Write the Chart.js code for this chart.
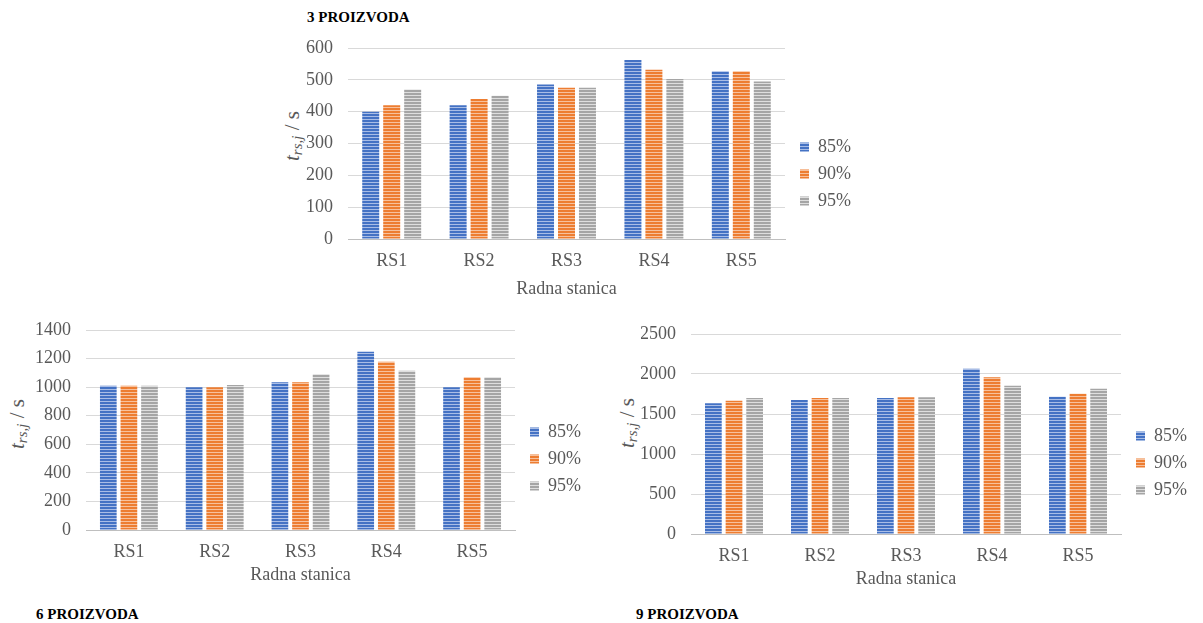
<!DOCTYPE html>
<html>
<head>
<meta charset="utf-8">
<script src="https://cdn.jsdelivr.net/npm/chart.js@4.4.1/dist/chart.umd.min.js"></script>
<style>
  body { margin: 0; background: #fff; width: 1203px; height: 623px; position: relative; overflow: hidden; font-family: 'Liberation Serif', serif; }
  .box { position: absolute; }
  .box canvas { display: block; }
  .caption { position: absolute; font-weight: bold; font-size: 15px; color: #000; line-height: 1; transform: translateY(-50%); }
  .ytitle { position: absolute; font-size: 21px; color: #595959; white-space: nowrap; transform: translate(-50%, -50%) rotate(-90deg); line-height: 1; }
  .ytitle sub { font-size: 15px; font-style: italic; vertical-align: -3px; }
</style>
</head>
<body>

<div class="caption" style="left:307px; top:17px;">3 PROIZVODA</div>
<div class="caption" style="left:36px; top:614px;">6 PROIZVODA</div>
<div class="caption" style="left:636px; top:614px;">9 PROIZVODA</div>

<div class="ytitle" style="left:293px; top:136px;"><i>t</i><sub>rs,j</sub> / s</div>
<div class="ytitle" style="left:18px; top:424px;"><i>t</i><sub>rs,j</sub> / s</div>
<div class="ytitle" style="left:628px; top:423px;"><i>t</i><sub>rs,j</sub> / s</div>

<div class="box" style="left:260px; top:30px; width:620px; height:280px;"><canvas id="chart3"></canvas></div>
<div class="box" style="left:0px; top:315px; width:600px; height:290px;"><canvas id="chart6"></canvas></div>
<div class="box" style="left:600px; top:319px; width:603px; height:290px;"><canvas id="chart9"></canvas></div>

<script>
// Categories and series
const stations = ['RS1', 'RS2', 'RS3', 'RS4', 'RS5'];
const seriesNames = ['85%', '90%', '95%'];

// 3 proizvoda
const p3_85 = [400, 420, 485, 562, 527];
const p3_90 = [420, 440, 475, 532, 527];
const p3_95 = [470, 450, 475, 503, 495];

// 6 proizvoda
const p6_85 = [1010, 1000, 1035, 1248, 1000];
const p6_90 = [1010, 1000, 1035, 1178, 1070];
const p6_95 = [1010, 1015, 1090, 1115, 1070];

// 9 proizvoda
const p9_85 = [1633, 1675, 1700, 2067, 1717];
const p9_90 = [1667, 1700, 1708, 1958, 1754];
const p9_95 = [1700, 1700, 1708, 1854, 1817];

const baseColors = ['#4472c4', '#ed7d31', '#a5a5a5'];
const lightColors = ['#a9bde6', '#f7c19d', '#dedede'];
const textColor = '#595959';

Chart.defaults.font.family = 'Liberation Serif';
Chart.defaults.font.size = 18;
Chart.defaults.color = textColor;

// horizontal line pattern, like the Excel fill
function stripePattern(base, light) {
    const c = document.createElement('canvas');
    c.width = 4;
    c.height = 3;
    const g = c.getContext('2d');
    g.fillStyle = base;
    g.fillRect(0, 0, 4, 3);
    g.fillStyle = light;
    g.fillRect(0, 2, 4, 1);
    return g.createPattern(c, 'repeat');
}

// nudge the legend a little to the right of the plot
const legendShift = {
    id: 'legendShift',
    afterLayout(chart) {
        if (chart.legend) {
            chart.legend.left += 6;
            chart.legend.right += 6;
        }
    }
};

function makeChart(id, series, yMax, yStep, pad, xHeight, titlePadBottom) {
    const ctx = document.getElementById(id).getContext('2d');
    return new Chart(ctx, {
        type: 'bar',
        data: {
            labels: stations,
            datasets: series.map((values, i) => ({
                label: seriesNames[i],
                data: values,
                backgroundColor: stripePattern(baseColors[i], lightColors[i]),
                borderWidth: 0,
                categoryPercentage: 0.72,
                barPercentage: 0.81
            }))
        },
        plugins: [legendShift],
        options: {
            responsive: true,
            maintainAspectRatio: false,
            animation: false,
            layout: { padding: pad },
            plugins: {
                legend: {
                    position: 'right',
                    labels: {
                        boxWidth: 9,
                        boxHeight: 9,
                        padding: 9
                    }
                },
                tooltip: { enabled: false }
            },
            scales: {
                x: {
                    grid: { display: false, drawTicks: false },
                    border: { display: true, color: '#bfbfbf', width: 1 },
                    ticks: { padding: 11 },
                    title: {
                        display: true,
                        text: 'Radna stanica',
                        padding: { top: 0, bottom: titlePadBottom }
                    },
                    afterFit(scale) { scale.height = xHeight; }
                },
                y: {
                    min: 0,
                    max: yMax,
                    grid: { color: '#d9d9d9', drawTicks: false },
                    border: { display: false },
                    ticks: {
                        stepSize: yStep,
                        padding: 15,
                        callback: value => String(value)
                    },
                    afterFit(scale) {
                        scale.width = 50;
                        scale.paddingTop = 0;
                        scale.paddingBottom = 0;
                    }
                }
            }
        }
    });
}

function drawAll() {
    makeChart('chart3', [p3_85, p3_90, p3_95], 600, 100,
        { left: 38, top: 18, right: 25, bottom: 10 }, 61, 0);
    makeChart('chart6', [p6_85, p6_90, p6_95], 1400, 200,
        { left: 36, top: 15, right: 15, bottom: 17 }, 58, 2);
    makeChart('chart9', [p9_85, p9_90, p9_95], 2500, 500,
        { left: 41, top: 15, right: 12, bottom: 17 }, 58, 2);
}

document.fonts.load('18px "Liberation Serif"').then(drawAll, drawAll);
</script>
</body>
</html>
